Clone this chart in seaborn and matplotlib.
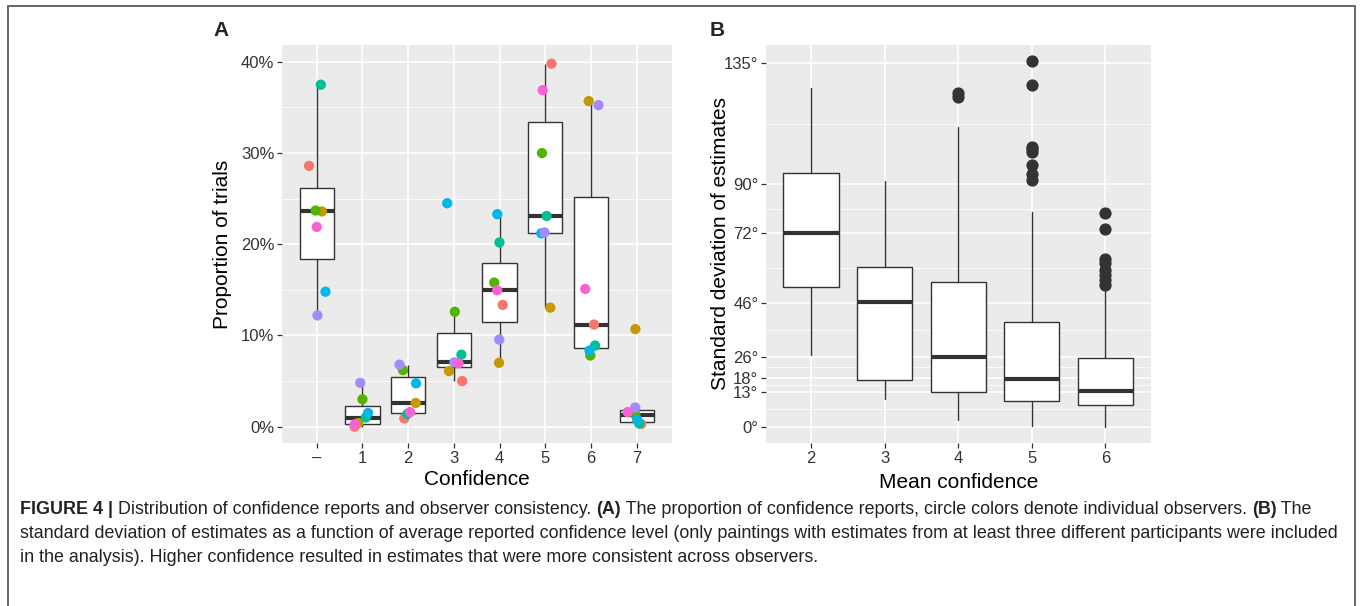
import numpy as np
import pandas as pd
import matplotlib
matplotlib.use("Agg")
import matplotlib.pyplot as plt
import seaborn as sns
from matplotlib.lines import Line2D
from matplotlib.font_manager import FontProperties

# ---- panel A data: proportion of trials (%) per confidence level, one value per observer
categories = ["–", "1", "2", "3", "4", "5", "6", "7"]
observers = ["S1", "S2", "S3", "S4", "S5", "S6", "S7"]
obs_colors = ["#F8766D", "#C49A00", "#53B400", "#00C094", "#00B6EB", "#A58AFF", "#FB61D7"]

prop_dash = [28.6, 23.6, 23.7, 37.5, 14.8, 12.2, 21.9]
prop_1 = [0.0, 0.4, 3.0, 1.0, 1.5, 4.8, 0.25]
prop_2 = [0.9, 2.6, 6.2, 1.4, 4.75, 6.8, 1.6]
prop_3 = [5.0, 6.1, 12.6, 7.9, 24.5, 7.05, 6.95]
prop_4 = [13.35, 7.0, 15.8, 20.2, 23.3, 9.55, 14.95]
prop_5 = [39.8, 13.05, 30.0, 23.1, 21.2, 21.3, 36.9]
prop_6 = [11.2, 35.7, 7.8, 8.9, 8.35, 35.25, 15.1]
prop_7 = [0.3, 10.7, 1.3, 0.35, 0.75, 2.1, 1.6]

# ---- panel B data: box summaries of SD of estimates (degrees) by mean confidence
mean_conf = ["2", "3", "4", "5", "6"]
sd_whislo = [26.6, 10.3, 2.5, 0.4, 0.0]
sd_q1 = [51.8, 17.2, 12.9, 9.5, 8.05]
sd_med = [72.1, 46.2, 26.0, 17.8, 13.25]
sd_q3 = [94.4, 59.4, 53.9, 39.0, 25.6]
sd_whishi = [125.7, 91.2, 111.2, 79.9, 51.5]
sd_outliers = [[], [], [122.6, 123.9],
               [136.0, 127.0, 104.0, 103.0, 102.0, 97.1, 93.9, 91.7],
               [79.3, 73.4, 62.4, 60.7, 58.2, 56.4, 54.5, 52.6]]
sd_ticks = [0, 13, 18, 26, 46, 72, 90, 135]

rows = []
for cat, vals in zip(categories, [prop_dash, prop_1, prop_2, prop_3, prop_4, prop_5, prop_6, prop_7]):
    for obs, v in zip(observers, vals):
        rows.append({"confidence": cat, "observer": obs, "proportion": v})
df = pd.DataFrame(rows)

sns.set_theme(style="darkgrid")
plt.rcParams["font.family"] = ["Liberation Sans", "DejaVu Sans"]
plt.rcParams["axes.facecolor"] = "#EBEBEB"

W, H = 1360, 606
fig = plt.figure(figsize=(W / 100, H / 100), dpi=100)
fig.patch.set_facecolor("white")

axA = fig.add_axes([282 / W, 1 - 443 / H, 390 / W, 398 / H])
axB = fig.add_axes([766 / W, 1 - 443 / H, 385 / W, 398 / H])

dark = "#333333"

# ---- panel A
sns.boxplot(data=df, x="confidence", y="proportion", order=categories, color="white",
            width=0.75, showfliers=False, showcaps=False, linewidth=1.0, linecolor=dark,
            medianprops=dict(color=dark, linewidth=3.0), ax=axA)
np.random.seed(7)
sns.stripplot(data=df, x="confidence", y="proportion", order=categories, hue="observer",
              hue_order=observers, palette=obs_colors, jitter=0.2, size=7.4, linewidth=0,
              legend=False, zorder=4, ax=axA)
axA.set_xlim(-0.76, 7.77)
axA.set_ylim(-1.79, 41.85)
axA.set_yticks([0, 10, 20, 30, 40])
axA.set_yticklabels(["0%", "10%", "20%", "30%", "40%"])
axA.set_yticks([5, 15, 25, 35], minor=True)

# ---- panel B
stats = []
for i in range(len(mean_conf)):
    stats.append({"whislo": sd_whislo[i], "q1": sd_q1[i], "med": sd_med[i], "q3": sd_q3[i],
                  "whishi": sd_whishi[i], "fliers": sd_outliers[i]})
axB.bxp(stats, positions=range(len(mean_conf)), widths=0.75, showcaps=False, patch_artist=True,
        boxprops=dict(facecolor="white", edgecolor=dark, linewidth=1.0),
        whiskerprops=dict(color=dark, linewidth=1.0),
        medianprops=dict(color=dark, linewidth=3.0),
        flierprops=dict(marker="o", markerfacecolor=dark, markeredgecolor=dark, markersize=7.8))
axB.set_xticks(range(len(mean_conf)))
axB.set_xticklabels(mean_conf)
axB.set_xlim(-0.61, 4.62)
axB.set_ylim(-6.05, 141.8)
axB.set_yticks(sd_ticks)
axB.set_yticklabels([f"{t}°" for t in sd_ticks])
axB.set_yticks([(a + b) / 2 for a, b in zip(sd_ticks[:-1], sd_ticks[1:])], minor=True)

for ax in (axA, axB):
    ax.set_facecolor("#EBEBEB")
    ax.set_axisbelow(True)
    ax.grid(which="major", color="white", linewidth=1.2)
    ax.grid(which="minor", axis="y", color="white", linewidth=0.6)
    ax.grid(which="minor", axis="x", visible=False)
    for s in ax.spines.values():
        s.set_visible(False)
    ax.tick_params(which="major", length=3.5, width=0.9, color=dark, pad=2,
                   labelsize=12, labelcolor=dark, left=True, bottom=True)
    ax.tick_params(which="minor", length=0)
    ax.set_xlabel("")
    ax.set_ylabel("")

axA.set_xlabel("Confidence", fontsize=15, color="black")
axA.set_ylabel("Proportion of trials", fontsize=15, color="black")
axA.xaxis.set_label_coords(0.5, -0.068)
axA.xaxis.label.set_va("top")
axA.yaxis.set_label_coords(-0.128, 0.5)
axB.set_xlabel("Mean confidence", fontsize=15, color="black")
axB.set_ylabel("Standard deviation of estimates", fontsize=15, color="black")
axB.xaxis.set_label_coords(0.5, -0.075)
axB.xaxis.label.set_va("top")
axB.yaxis.set_label_coords(-0.0935, 0.5)

fig.text(221 / W, 1 - 31 / H, "A", fontsize=15, fontweight="bold", ha="center", va="center")
fig.text(717 / W, 1 - 31 / H, "B", fontsize=15, fontweight="bold", ha="center", va="center")

# ---- frame (open at the bottom)
frame = dict(color="#666666", linewidth=1.4, transform=fig.transFigure)
fig.add_artist(Line2D([8 / W, 1355 / W], [1 - 6 / H, 1 - 6 / H], **frame))
fig.add_artist(Line2D([8 / W, 8 / W], [1 - 6 / H, 0], **frame))
fig.add_artist(Line2D([1355 / W, 1355 / W], [1 - 6 / H, 0], **frame))

# ---- caption
fig.canvas.draw()
renderer = fig.canvas.get_renderer()


def run_width(s, size, weight):
    fp = FontProperties(family="Liberation Sans", size=size, weight=weight)
    w1, _, _ = renderer.get_text_width_height_descent("|" + s + "|", fp, ismath=False)
    w0, _, _ = renderer.get_text_width_height_descent("||", fp, ismath=False)
    return w1 - w0


cap_line1 = [("FIGURE 4 |", "bold"),
             (" Distribution of confidence reports and observer consistency. ", "normal"),
             ("(A)", "bold"),
             (" The proportion of confidence reports, circle colors denote individual observers. ", "normal"),
             ("(B)", "bold"),
             (" The", "normal")]
cap_line2 = [("standard deviation of estimates as a function of average reported confidence level "
              "(only paintings with estimates from at least three different participants were included", "normal")]
cap_line3 = [("in the analysis). Higher confidence resulted in estimates that were more consistent across observers.",
              "normal")]

cap_size = 12 * 1320 / run_width(cap_line2[0][0], 12, "normal")
for line, ypx in [(cap_line1, 509), (cap_line2, 533), (cap_line3, 557)]:
    x = 20
    for s, wt in line:
        fig.text(x / W, 1 - ypx / H, s, fontsize=cap_size, fontweight=wt, color="#222222",
                 ha="left", va="center")
        x += run_width(s, cap_size, wt)

fig.savefig("out.png", dpi=100)
